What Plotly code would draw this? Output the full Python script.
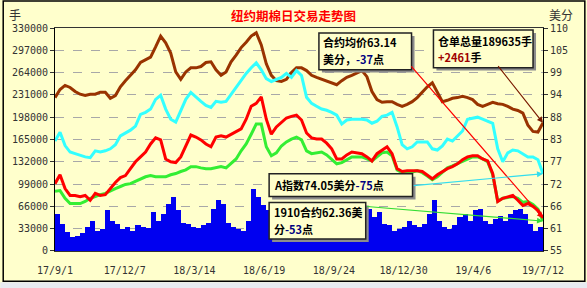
import pandas as pd
import plotly.graph_objects as go

# ---------------- data ----------------
dates = pd.date_range("2017-09-01", periods=98, freq="7D")

x_tick_dates = ["2017-09-01", "2017-12-07", "2018-03-14", "2018-06-19",
                "2018-09-24", "2018-12-30", "2019-04-06", "2019-07-12"]
x_tick_text = ["17/9/1", "17/12/7", "18/3/14", "18/6/19",
               "18/9/24", "18/12/30", "19/4/6", "19/7/12"]

left_ticks = [0, 33000, 66000, 99000, 132000, 165000, 198000, 231000, 264000, 297000, 330000]
right_ticks = [55, 60.5, 66, 71.5, 77, 82.5, 88, 93.5, 99, 104.5, 110]
right_tick_text = ["55", "61", "66", "72", "77", "83", "88", "94", "99", "105", "110"]

# 成交量 (left axis, 手)
volume = [55000, 40000, 28000, 20000, 22000, 26000, 35000, 45000, 30000, 33000,
          60000, 45000, 40000, 32000, 35000, 30000, 38000, 36000, 34000, 58000,
          45000, 55000, 70000, 80000, 60000, 42000, 40000, 36000, 34000, 38000,
          42000, 62000, 75000, 70000, 42000, 35000, 33000, 30000, 45000, 92000,
          80000, 68000, 60000, 45000, 40000, 38000, 42000, 36000, 40000, 44000,
          38000, 35000, 42000, 40000, 37000, 45000, 40000, 38000, 42000, 48000,
          45000, 50000, 62000, 50000, 58000, 40000, 38000, 30000, 32000, 35000,
          45000, 38000, 36000, 40000, 55000, 75000, 45000, 35000, 33000, 38000,
          50000, 55000, 45000, 60000, 62000, 45000, 40000, 48000, 52000, 45000,
          55000, 60000, 62000, 55000, 40000, 30000, 35000, 40000]

# 仓单总量 (left axis, 手)
open_interest = [227000, 239000, 245000, 242000, 236000, 232000, 230000, 232000, 232000, 235000,
                 235000, 226000, 230000, 243000, 252000, 260000, 268000, 279000, 283000, 287000,
                 302000, 318000, 308000, 293000, 265000, 254000, 265000, 271000, 271000, 273000,
                 279000, 280000, 268000, 260000, 265000, 280000, 290000, 301000, 309000, 318000,
                 323000, 305000, 277000, 260000, 252000, 251000, 254000, 264000, 271000, 271000,
                 267000, 260000, 257000, 254000, 251000, 248000, 246000, 252000, 257000, 260000,
                 263000, 267000, 258000, 236000, 224000, 220000, 221000, 221000, 217000, 214000,
                 217000, 221000, 227000, 235000, 243000, 249000, 236000, 221000, 223000, 226000,
                 227000, 229000, 227000, 224000, 217000, 214000, 217000, 220000, 218000, 217000,
                 214000, 210000, 208000, 204000, 186000, 177000, 176000, 189635]

# A指数 (right axis, 美分)
a_index = [82.1, 84.3, 81.0, 79.4, 79.0, 78.5, 78.2, 78.0, 79.7, 79.4,
           79.7, 80.2, 81.2, 83.4, 84.1, 84.8, 85.8, 88.7, 89.2, 90.0,
           92.4, 93.4, 90.0, 87.5, 86.8, 89.5, 92.4, 94.1, 92.9, 91.9,
           90.9, 90.4, 91.9, 91.7, 91.9, 93.6, 95.6, 97.3, 98.8, 100.2,
           101.4, 99.7, 97.5, 96.8, 97.3, 97.8, 98.8, 97.8, 99.5, 98.3,
           92.9, 91.4, 90.7, 90.0, 89.7, 89.2, 88.5, 86.3, 87.3, 87.5,
           87.5, 87.5, 87.3, 86.5, 87.0, 88.2, 88.5, 89.2, 85.6, 81.2,
           80.2, 80.7, 81.9, 81.9, 81.9, 80.2, 79.9, 80.9, 82.6, 82.1,
           83.4, 84.6, 87.5, 87.8, 88.0, 87.5, 87.0, 86.5, 80.2, 77.0,
           79.2, 79.9, 79.7, 78.9, 78.2, 78.2, 77.5, 74.05]

# 1910合约 (right axis, 美分)
c1910 = [69.7, 69.9, 68.0, 66.7, 66.7, 66.7, 67.2, 68.0, 68.4, 68.9,
         69.2, 69.9, 70.4, 70.9, 71.4, 71.6, 72.1, 72.8, 73.3, 73.6,
         73.3, 73.3, 73.3, 73.8, 74.1, 74.6, 75.0, 75.8, 75.8, 75.5,
         75.3, 75.3, 75.5, 75.8, 75.5, 76.5, 77.7, 79.7, 81.4, 83.8,
         86.3, 86.3, 80.7, 78.5, 79.2, 80.9, 81.9, 82.6, 83.1, 82.4,
         79.7, 79.0, 79.2, 79.4, 78.7, 77.7, 76.5, 76.8, 77.5, 78.2,
         78.2, 78.2, 77.7, 77.2, 78.2, 79.2, 79.4, 78.5, 75.0, 74.3,
         74.6, 74.5, 74.8, 74.3, 73.5, 72.6, 73.3, 74.3, 75.5, 76.0,
         76.5, 77.2, 77.7, 78.2, 78.2, 77.7, 77.0, 73.8, 67.3, 68.0,
         68.2, 68.4, 68.0, 67.0, 67.2, 66.5, 65.3, 62.36]

# 合约均价 (right axis, 美分)
avg_price = [71.6, 73.8, 70.4, 68.7, 68.7, 68.4, 68.7, 67.5, 69.2, 68.7,
             68.9, 70.4, 71.9, 73.1, 73.6, 75.3, 77.0, 78.2, 79.4, 81.4,
             82.9, 82.4, 77.7, 77.0, 76.8, 78.2, 80.9, 83.6, 83.1, 82.4,
             81.4, 80.7, 83.1, 83.4, 83.1, 83.8, 84.3, 85.1, 87.5, 90.7,
             91.4, 93.0, 87.5, 83.8, 85.6, 86.8, 87.8, 88.2, 88.5, 87.3,
             84.1, 82.9, 82.6, 82.6, 81.6, 80.2, 77.7, 77.7, 78.7, 79.4,
             79.2, 79.0, 78.2, 77.2, 79.0, 79.9, 80.7, 79.0, 75.3, 74.6,
             74.8, 74.8, 74.8, 74.6, 73.6, 72.8, 73.8, 74.6, 75.3, 75.8,
             76.5, 77.5, 78.2, 78.5, 78.5, 77.7, 77.2, 74.1, 67.2, 68.0,
             68.4, 68.7, 67.5, 66.2, 66.7, 66.0, 65.0, 63.14]

# ---------------- layout helpers (pixel -> paper) ----------------
PL, PR, PT, PB = 53, 543, 28, 253


def px(x):
    return (x - PL) / (PR - PL)


def py(y):
    return (PB - y) / (PB - PT)


BG = "#FFFFCC"
CJK = "Noto Sans CJK SC"
MONO = "DejaVu Sans Mono"

fig = go.Figure()
fig.add_trace(go.Bar(x=dates, y=volume, offset=0, width=7 * 86400000,
                     marker=dict(color="#0000F0", line=dict(width=0)), yaxis="y"))
fig.add_trace(go.Scatter(x=dates, y=open_interest, mode="lines",
                         line=dict(color="#993300", width=3), yaxis="y"))
fig.add_trace(go.Scatter(x=dates, y=a_index, mode="lines",
                         line=dict(color="#33FFFF", width=3), yaxis="y2"))
fig.add_trace(go.Scatter(x=dates, y=c1910, mode="lines",
                         line=dict(color="#33EE33", width=3), yaxis="y2"))
fig.add_trace(go.Scatter(x=dates, y=avg_price, mode="lines",
                         line=dict(color="#FF0000", width=3), yaxis="y2"))

shapes = []
# outer border and bottom strip
shapes.append(dict(type="rect", xref="paper", yref="paper", layer="above",
                   x0=px(-2), x1=px(590), y0=py(291), y1=py(284.5),
                   fillcolor="#E8EBF1", line=dict(width=0)))
shapes.append(dict(type="rect", xref="paper", yref="paper", layer="above",
                   x0=px(1), x1=px(585), y0=py(283.5), y1=py(0.8),
                   line=dict(color="black", width=1.5)))

boxes = [
    (318, 33, 411, 70),
    (433, 30, 533, 68),
    (268, 175, 412, 198),
    (268, 204, 365, 241),
]
for (x0, y0, x1, y1) in boxes:
    shapes.append(dict(type="rect", xref="paper", yref="paper", layer="above",
                       x0=px(x0 + 3), x1=px(x1 + 3), y0=py(y1 + 3), y1=py(y0 + 3),
                       fillcolor="#8C8C8C", line=dict(width=0)))
    shapes.append(dict(type="rect", xref="paper", yref="paper", layer="above",
                       x0=px(x0), x1=px(x1), y0=py(y1), y1=py(y0),
                       fillcolor=BG, line=dict(color="#222222", width=1.5)))

annotations = []
# headers
annotations.append(dict(text="<b>纽约期棉日交易走势图</b>", xref="paper", yref="paper",
                        x=px(292), y=py(15), xanchor="center", yanchor="middle",
                        showarrow=False,
                        font=dict(family=CJK, size=12.5, color="#FF0000")))
annotations.append(dict(text="手", xref="paper", yref="paper", x=px(13), y=py(14),
                        xanchor="center", yanchor="middle",
                        showarrow=False, font=dict(family=CJK, size=12, color="#333333")))
annotations.append(dict(text="美分", xref="paper", yref="paper", x=px(561), y=py(14),
                        xanchor="center", yanchor="middle",
                        showarrow=False, font=dict(family=CJK, size=12, color="#333333")))

NAVY = "#000080"
DRED = "#A00000"
box_lines = [
    ("合约均价63.14", 320, 42.5),
    ("美分，<span style='color:%s'>-37</span>点" % NAVY, 320, 59),
    ("仓单总量189635手", 436, 41),
    ("<span style='color:%s'>+2461</span>手" % DRED, 436, 57),
    ("A指数74.05美分<span style='color:%s'>-75</span>点" % NAVY, 271, 186),
    ("1910合约62.36美", 271, 214),
    ("分<span style='color:%s'>-53</span>点" % NAVY, 271, 231),
]
for t, x, y in box_lines:
    annotations.append(dict(text="<b>" + t + "</b>", xref="paper", yref="paper",
                            x=px(x), y=py(y), xanchor="left", yanchor="middle",
                            align="left", showarrow=False,
                            font=dict(family=CJK, size=11, color="black")))

# arrows from boxes to the last values
end = dates[-1]
annotations.append(dict(text="", x=end, y=avg_price[-1], xref="x", yref="y2",
                        ax="2019-01-08", ay=100.9, axref="x", ayref="y2",
                        showarrow=True, arrowhead=2, arrowsize=1, arrowwidth=1.2,
                        arrowcolor="#FF0000", standoff=0))
annotations.append(dict(text="", x=end, y=open_interest[-1], xref="x", yref="y",
                        ax="2019-05-09", ay=275700, axref="x", ayref="y",
                        showarrow=True, arrowhead=2, arrowsize=1, arrowwidth=1.2,
                        arrowcolor="#7A1A00", standoff=0))
annotations.append(dict(text="", x=end, y=a_index[-1], xref="x", yref="y2",
                        ax="2019-01-11", ay=71.1, axref="x", ayref="y2",
                        showarrow=True, arrowhead=2, arrowsize=1, arrowwidth=1.2,
                        arrowcolor="#33DDEE", standoff=0))
annotations.append(dict(text="", x=end, y=c1910[-1], xref="x", yref="y2",
                        ax="2018-11-07", ay=66.0, axref="x", ayref="y2",
                        showarrow=True, arrowhead=2, arrowsize=1, arrowwidth=1.2,
                        arrowcolor="#33DD33", standoff=0))

tickfont = dict(family=MONO, size=10, color="#333333")

fig.update_layout(
    width=587, height=288,
    margin=dict(l=PL, r=587 - PR, t=PT, b=288 - PB),
    paper_bgcolor=BG, plot_bgcolor=BG,
    showlegend=False, bargap=0,
    shapes=shapes, annotations=annotations,
    xaxis=dict(type="date", range=["2017-09-01", "2019-07-12"],
               tickvals=x_tick_dates, ticktext=x_tick_text, tickfont=tickfont,
               showgrid=False, zeroline=False, showline=True, mirror=True,
               linecolor="#333333", linewidth=1, ticks="", ticklabelstandoff=10),
    yaxis=dict(range=[-60, 330000], tickvals=left_ticks,
               ticktext=[str(v) for v in left_ticks], tickfont=tickfont,
               ticklabeloverflow="allow",
               showgrid=True, gridcolor="#A8A8A8", griddash="dash", gridwidth=1,
               zeroline=False, showline=True, linecolor="black", linewidth=1,
               ticks="outside", ticklen=4, tickcolor="#333333"),
    yaxis2=dict(range=[54.99, 110], overlaying="y", side="right",
                tickvals=right_ticks, ticktext=right_tick_text, tickfont=tickfont,
                ticklabeloverflow="allow",
                showgrid=False, zeroline=False, showline=True, linecolor="black",
                linewidth=1, ticks="outside", ticklen=4, tickcolor="#333333"),
)

fig.write_html("out.html")
